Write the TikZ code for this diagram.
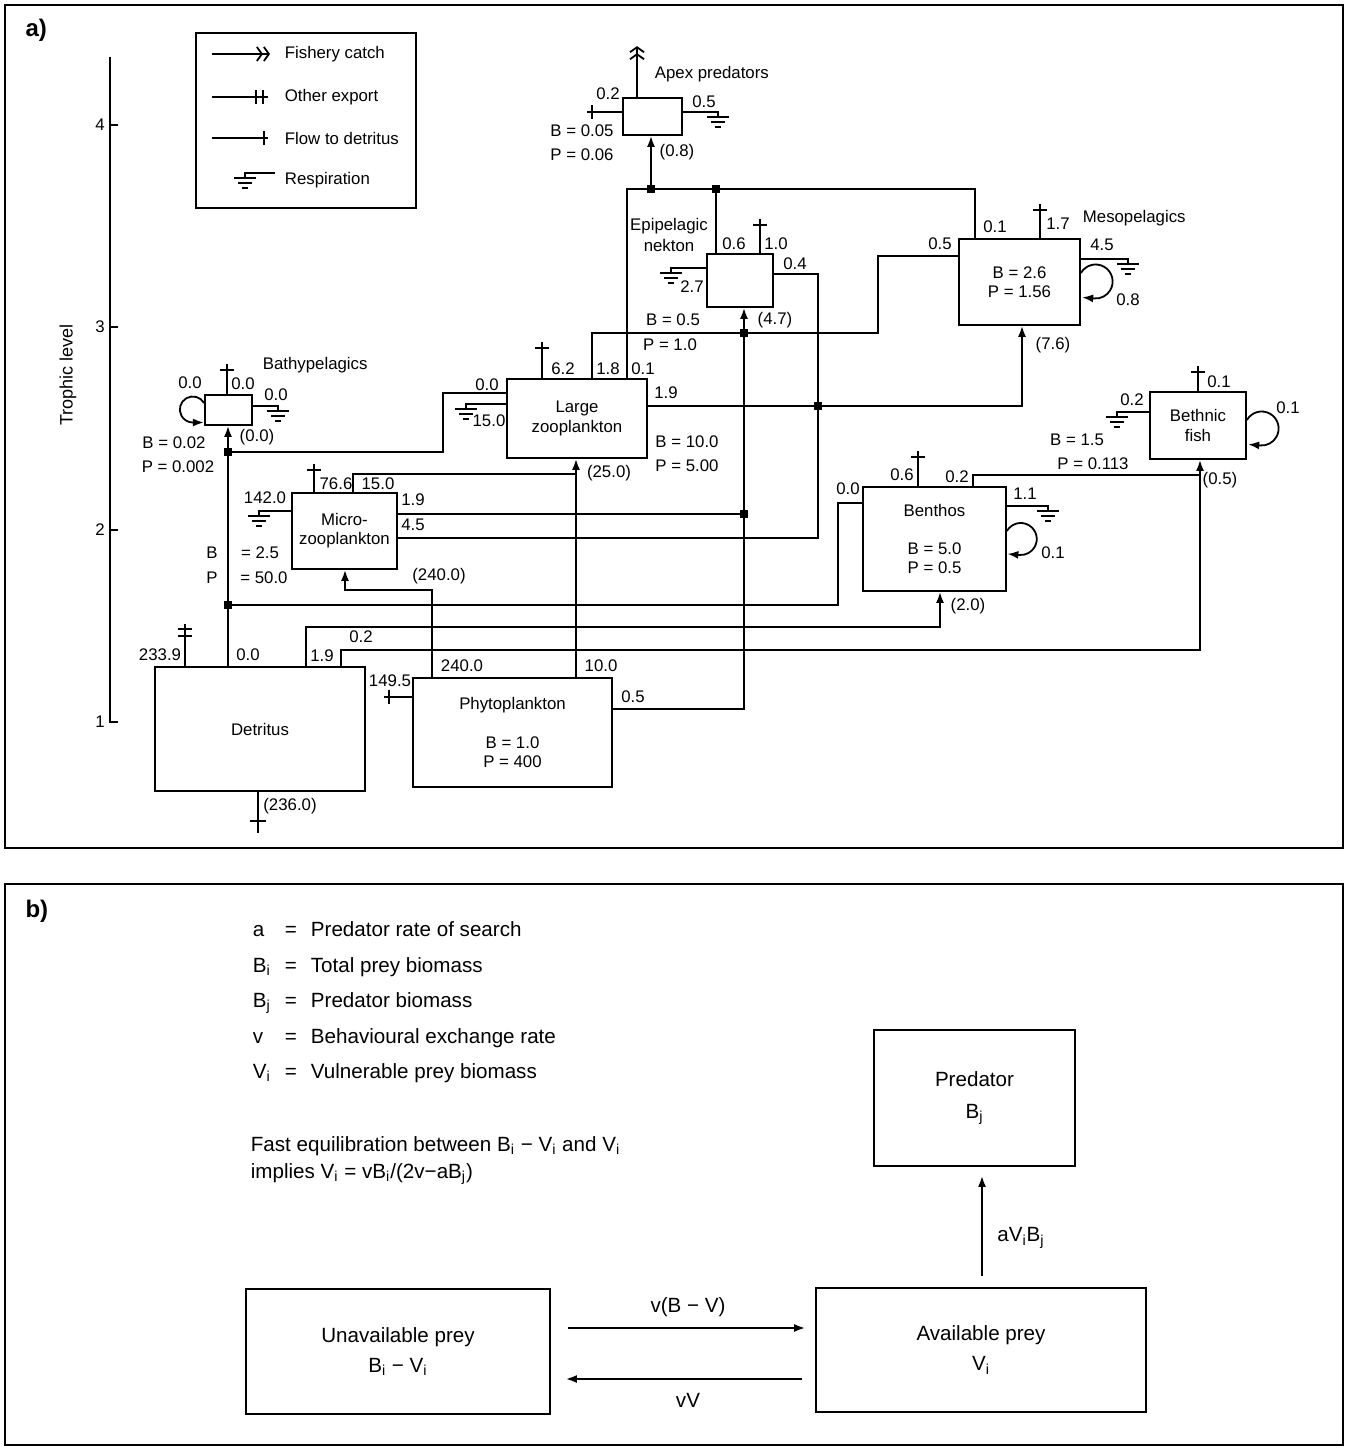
\documentclass[tikz,border=0pt]{standalone}
\usepackage{fontspec}
\setmainfont{Liberation Sans}
\usetikzlibrary{arrows.meta}

\begin{document}
\begin{tikzpicture}[x=0.5pt, y=-0.5pt, line width=0.9pt,
  font=\fontsize{8.4}{9.6}\selectfont,
  box/.style 2 args={draw, align=center, inner sep=1pt, minimum width=#1*0.5pt, minimum height=#2*0.5pt},
  jn/.style={fill, minimum size=4pt, inner sep=0pt},
  lbl/.style={inner sep=0pt},
  flow/.style={-{Latex[length=5.5pt,width=4pt]}},
  fish/.style={-{Straight Barb[length=2.5pt,width=7pt] Straight Barb[length=2.5pt,width=7pt]}}]

  \tikzset{
    detu/.pic={\draw (0,0) -- (0,-#1) (-7,6-#1) -- (7,6-#1);},
    detd/.pic={\draw (0,0) -- (0,#1) (-8,#1-12) -- (8,#1-12);},
    detl/.pic={\draw (0,0) -- (-#1,0) (5-#1,-7) -- (5-#1,7);},
    detr/.pic={\draw (0,0) -- (#1,0) (#1-4,-7) -- (#1-4,7);},
    expu/.pic={\draw (0,0) -- (0,-#1) (-7,5-#1) -- (7,5-#1) (-7,12-#1) -- (7,12-#1);},
    expr/.pic={\draw (0,0) -- (#1,0) (#1-12,-7) -- (#1-12,7) (#1-5,-7) -- (#1-5,7);},
    respr/.pic={\draw (0,0) -- (#1,0) -- (#1,5) (#1-11,5) -- (#1+11,5) (#1-7,10) -- (#1+7,10) (#1-3,15) -- (#1+3,15);},
    respl/.pic={\draw (0,0) -- (-#1,0) -- (-#1,5) (-#1-11,5) -- (-#1+11,5) (-#1-7,10) -- (-#1+7,10) (-#1-3,15) -- (-#1+3,15);},
    fishu/.pic={\draw[fish] (0,0) -- (0,-#1);},
    fishr/.pic={\draw[fish] (0,0) -- (#1,0);}
  }

  \useasboundingbox (0,0) rectangle (1348,1450);
  \draw[line width=0.7pt] (5,5) rectangle (1343,848);
  \draw[line width=0.7pt] (5,884) rectangle (1343,1445);
  \node[font=\fontsize{12}{14}\selectfont\bfseries, anchor=west] (pa) at (18,30) {a)};
  \node[font=\fontsize{12}{14}\selectfont\bfseries, anchor=west] (pb) at (18,911) {b)};

  % trophic level axis
  \draw (110,57) -- (110,722) -- (118,722);
  \foreach \y in {125,327,530}
    \draw (110,\y) -- (118,\y);
  \foreach \t/\y in {4/125,3/327,2/530,1/722}
    \node[lbl] (tl\t) at (100,\y) {\t};
  \node[rotate=90, font=\fontsize{9}{10}\selectfont] (ylab) at (68,375) {Trophic level};

  % legend
  \node[box={220}{175}] (legend) at (306,120.5) {};
  \path (212,54) pic{fishr=58};
  \path (212,97) pic{expr=56};
  \path (212,138) pic{detr=56};
  \path (275,173) pic{respl=30};
  \foreach \t/\y [count=\i] in {Fishery catch/54,Other export/97,Flow to detritus/138,Respiration/180}
    \node[anchor=west, inner sep=0pt] (lg\i) at (284,\y) {\t};

  % compartments
  \node[box={59}{37}] (apex) at (652.5,116.5) {};
  \node[box={66}{53}] (epi) at (740,280.5) {};
  \node[box={121}{86}] (meso) at (1019.5,282) {B = 2.6\\P = 1.56};
  \node[box={47}{30}] (bathy) at (228.5,410) {};
  \node[box={140}{79}] (lzoo) at (577,418.5) {Large\\zooplankton};
  \node[box={105}{76}] (micro) at (344.5,531) {Micro-\\zooplankton};
  \node[box={143}{104}] (benthos) at (934.5,539) {Benthos\\[9.5pt]B = 5.0\\P = 0.5};
  \node[box={96}{67}] (bfish) at (1198,425.5) {Bethnic\\fish};
  \node[box={210}{124}] (detritus) at (260,729) {Detritus};
  \node[box={199}{109}] (phyto) at (512.5,732.5) {Phytoplankton\\[9.5pt]B = 1.0\\P = 400};

  % junctions
  \node[jn] (j1) at (651,189) {};
  \node[jn] (j2) at (716,189) {};
  \node[jn] (j3) at (744,333) {};
  \node[jn] (j4) at (818,406) {};
  \node[jn] (j5) at (744,514) {};
  \node[jn] (j6) at (228,452) {};
  \node[jn] (j7) at (228,605) {};
  \coordinate (j8) at (1200,475);
  \coordinate (j9) at (576,474);

  % flows
  \draw (lzoo.north -| 627,0) |- (j1.center) -| (meso.north -| 975,0);
  \draw[flow] (j1.center) -- (apex.south -| j1.center);
  \draw (epi.north -| j2.center) -- (j2.center);
  \draw (epi.east |- 0,274) -| (j4.center) |- (micro.east |- 0,538);
  \draw[flow] (lzoo.east |- 0,406) -- (j4.center) -| (meso.south -| 1022,0);
  \draw[flow] (phyto.east |- 0,709) -| (epi.south -| j3.center);
  \draw (micro.east |- 0,514) -- (j5.center);
  \draw (lzoo.north -| 592,0) |- (j3.center) -| (878,256) -- (meso.west |- 0,256);
  \draw (lzoo.west |- 0,393) -| (443,452) -- (j6.center);
  \draw[flow] (detritus.north -| j6.center) -- (bathy.south -| j6.center);
  \draw (benthos.west |- 0,503) -| (j7.center -| 838,0) -- (j7.center);
  \draw[flow] (detritus.north -| 306,0) |- (940,627) -- (benthos.south -| 940,0);
  \draw[flow] (detritus.north -| 341,0) |- (1200,650) -- (bfish.south -| 1200,0);
  \draw (benthos.north -| 973,0) |- (j8);
  \draw[flow] (phyto.north -| 576,0) -- (lzoo.south -| 576,0);
  \draw (micro.north -| 353,0) |- (j9);
  \draw[flow] (phyto.north -| 432,0) |- (345,590) -- (micro.south -| 345,0);

  % exports, detritus and respiration
  \path (apex.north -| 637,0) pic{fishu=51};
  \path (apex.west |- 0,112) pic{detl=35};
  \path (apex.east |- 0,112) pic{respr=35};
  \path (epi.north -| 760,0) pic{detu=34};
  \path (epi.west |- 0,268) pic{respl=35};
  \path (meso.north -| 1040,0) pic{detu=34};
  \path (meso.east |- 0,259) pic{respr=47};
  \path (bathy.north -| 227,0) pic{detu=30};
  \path (bathy.east |- 0,406) pic{respr=25};
  \path (lzoo.north -| 542,0) pic{detu=36};
  \path (lzoo.west |- 0,404) pic{respl=40};
  \path (micro.north -| 314,0) pic{detu=28};
  \path (micro.west |- 0,511) pic{respl=32};
  \path (detritus.north -| 185,0) pic{expu=42};
  \path (detritus.south -| 258,0) pic{detd=41};
  \path (phyto.west |- 0,697) pic{detl=28};
  \path (benthos.north -| 918,0) pic{detu=35};
  \path (benthos.east |- 0,506) pic{respr=41};
  \path (bfish.north -| 1198,0) pic{detu=25};
  \path (bfish.west |- 0,412) pic{respl=32};

  % cannibalism loops
  \draw[flow] (meso.east |- 0,273) arc[start angle=-150, end angle=95, radius=17] -- ++(-12,-1);
  \draw[flow] (benthos.east |- 0,531) arc[start angle=-150, end angle=95, radius=16] -- ++(-12,-1);
  \draw[flow] (bfish.east |- 0,420) arc[start angle=-150, end angle=95, radius=17] -- ++(-12,-1);
  \draw[flow] (bathy.west |- 0,403) arc[start angle=-30, end angle=-270, radius=13] -- ++(11,0);

  \node[anchor=west, inner sep=0pt] (apexlab) at (654,74) {Apex predators};
  \node[anchor=west, inner sep=0pt] (mesolab) at (1082,218) {Mesopelagics};
  \node[anchor=west, inner sep=0pt] (bathylab) at (262,365) {Bathypelagics};

  \foreach \t/\x/\y [count=\i] in {0.2/608/94, 0.5/704/102, B = 0.05/582/131, P = 0.06/582/155, (0.8)/677/152,
      Epipelagic/669/226, nekton/669/245, 0.6/734/244, 1.0/776/244, 0.4/795/264, 2.7/692/287, (4.7)/775/320,
      B = 0.5/673/320, P = 1.0/670/345, 0.1/995/227, 1.7/1058/224, 0.5/940/244, 4.5/1102/245, 0.8/1128/300,
      (7.6)/1053/345, 0.0/190/383, 0.0/243/384, 0.0/276/395, B = 0.02/174/443, P = 0.002/178/467, (0.0)/257/437,
      6.2/563/369, 1.8/608/369, 0.1/643/369, 0.0/487/385, 15.0/489/421, 1.9/666/393, B = 10.0/687/442,
      P = 5.00/687/466, (25.0)/609/473, 76.6/336/484, 15.0/378/484, 142.0/265/498, 1.9/413/500, 4.5/413/525,
      B/212/553, = 2.5/260/553, P/212/578, = 50.0/264/578, (240.0)/439/576, 233.9/160/655, 0.0/248/655,
      1.9/322/656, 0.2/361/637, (236.0)/290/806, 149.5/390/681, 240.0/462/666, 10.0/601/666, 0.5/633/697,
      0.0/848/489, 0.6/902/475, 0.2/957/477, 1.1/1025/494, 0.1/1053/553, (2.0)/968/606, 0.1/1219/382,
      0.1/1288/408, 0.2/1132/400, B = 1.5/1077/440, P = 0.113/1093/464, (0.5)/1220/480}
    \node[lbl] (lab\i) at (\x,\y) {\t};

  % panel b
  \begin{scope}[font=\fontsize{10.3}{12}\selectfont]
    \foreach \s/\d/\y [count=\i] in {a/Predator rate of search/936, B\textsubscript{i}/Total prey biomass/972,
        B\textsubscript{j}/Predator biomass/1007, v/Behavioural exchange rate/1043, V\textsubscript{i}/Vulnerable prey biomass/1078}{
      \node[anchor=base west, inner sep=0pt] (sym\i) at (252,\y) {\s};
      \node[anchor=base, inner sep=0pt] (eq\i) at (291,\y) {=};
      \node[anchor=base west, inner sep=0pt] (def\i) at (310,\y) {\d};
    }
    \node[anchor=base west, inner sep=0pt] (fast) at (250,1151) {Fast equilibration between B\textsubscript{i} − V\textsubscript{i} and V\textsubscript{i}};
    \node[anchor=base west, inner sep=0pt] (impl) at (250,1178) {implies V\textsubscript{i} = vB\textsubscript{i}/(2v−aB\textsubscript{j})};

    \node[box={201}{136}] (pred) at (974.5,1098) {Predator\\[4pt]B\textsubscript{j}};
    \node[box={304}{125}] (unavail) at (398,1351.5) {Unavailable prey\\[3pt]B\textsubscript{i} − V\textsubscript{i}};
    \node[box={330}{124}] (avail) at (981,1350) {Available prey\\[3pt]V\textsubscript{i}};

    \draw[flow, shorten <=8.5pt, shorten >=5pt] (unavail.east |- 0,1328) -- (avail.west |- 0,1328);
    \draw[flow, shorten <=6.5pt, shorten >=7.5pt] (avail.west |- 0,1379) -- (unavail.east |- 0,1379);
    \draw[flow, shorten <=5.5pt, shorten >=4.5pt] (avail.north -| 982,0) -- (pred.south -| 982,0);
    \node[lbl] (vbv) at (688,1307) {v(B − V)};
    \node[lbl] (vv) at (688,1400) {vV};
    \node[lbl] (avb) at (1021,1238) {aV\textsubscript{i}B\textsubscript{j}};
  \end{scope}
\end{tikzpicture}
\end{document}
